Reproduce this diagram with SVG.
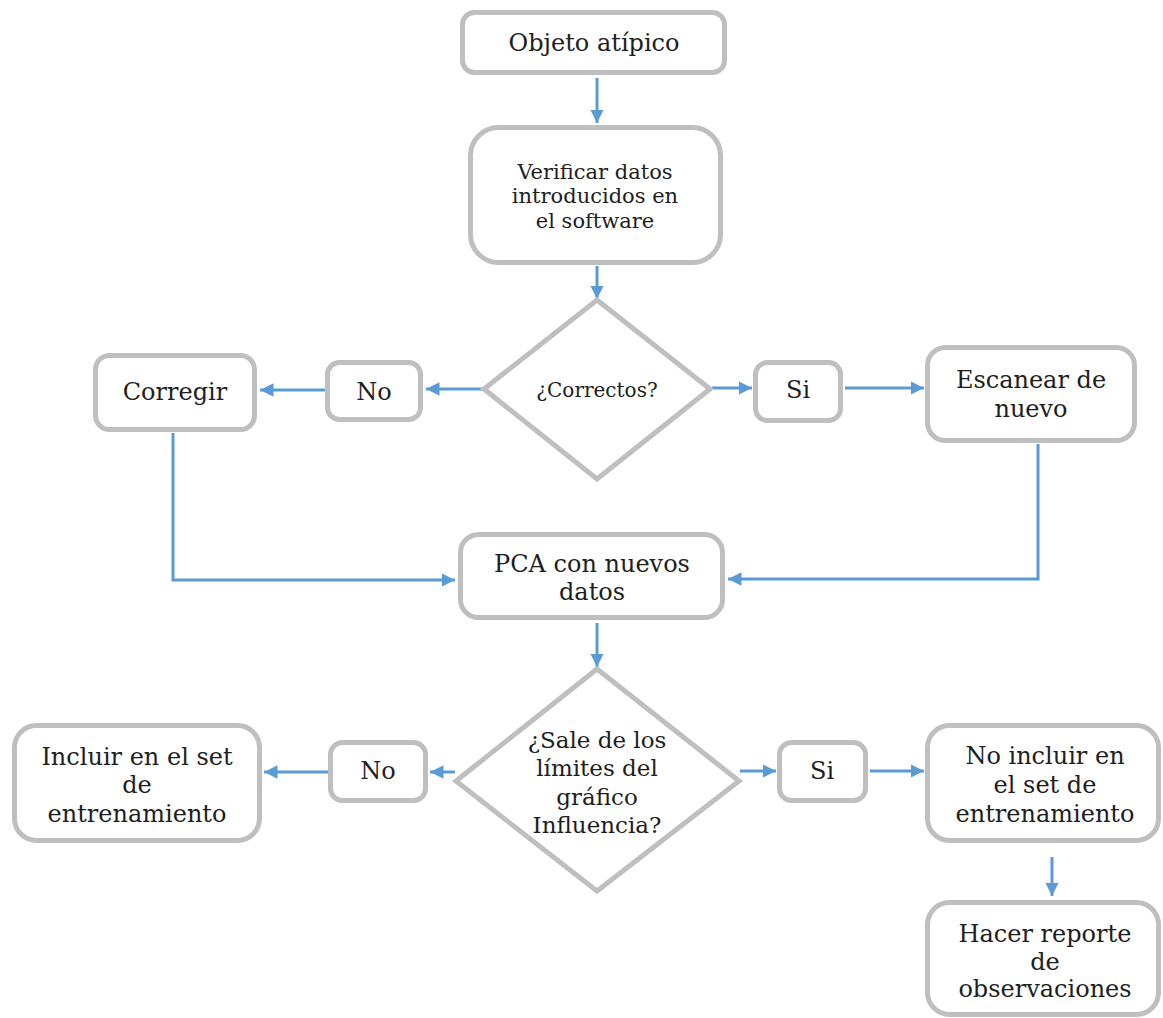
<svg xmlns="http://www.w3.org/2000/svg" width="1163" height="1018" viewBox="0 0 1163 1018">
<style>
.box{fill:#fff;stroke:#bfbfbf;stroke-width:5}
.t{font-family:"DejaVu Serif","Liberation Serif",serif;font-size:24px;fill:#1e1e1e;text-anchor:middle}
.c{fill:none;stroke:#5b9bd5;stroke-width:3;marker-end:url(#ah)}
</style>
<defs>
<marker id="ah" viewBox="0 0 10 10" refX="10" refY="5" markerWidth="4.5" markerHeight="4.5" orient="auto" markerUnits="strokeWidth">
<path d="M0,0 L10,5 L0,10 z" fill="#5b9bd5"/>
</marker>
</defs>
<rect width="1163" height="1018" fill="#fff"/>
<g id="connectors">
<path class="c" d="M597,78 V123"/>
<path class="c" d="M597,266 V299"/>
<path class="c" d="M483,389 H426"/>
<path class="c" d="M325,390 H260"/>
<path class="c" d="M712,388 H752"/>
<path class="c" d="M845,388 H924"/>
<path class="c" d="M1038,444 V579 H728"/>
<path class="c" d="M173,433 V580 H455"/>
<path class="c" d="M597,623 V667"/>
<path class="c" d="M455,772 H430"/>
<path class="c" d="M328,772 H264"/>
<path class="c" d="M740,771 H776"/>
<path class="c" d="M870,771 H924"/>
<path class="c" d="M1052,857 V896"/>
</g>
<g id="n1"><rect class="box" x="462.5" y="12.5" width="262" height="60" rx="12"/><text class="t" x="594" y="51">Objeto atípico</text></g>
<g id="n2"><rect class="box" x="470.5" y="127.5" width="250" height="135" rx="28"/><text class="t" style="font-size:21px" x="595" y="179">Verificar datos</text><text class="t" style="font-size:21px" x="595" y="203">introducidos en</text><text class="t" style="font-size:21px" x="595" y="228">el software</text></g>
<g id="d1"><polygon class="box" points="597,300 710,389 597,479 484,389"/><text class="t" style="font-size:20px" x="597" y="397">¿Correctos?</text></g>
<g id="no1"><rect class="box" x="327.5" y="362.5" width="93" height="57" rx="12"/><text class="t" x="374" y="400">No</text></g>
<g id="corregir"><rect class="box" x="95.5" y="355.5" width="159" height="74" rx="14"/><text class="t" x="175" y="400">Corregir</text></g>
<g id="si1"><rect class="box" x="755.5" y="362.5" width="85" height="58" rx="12"/><text class="t" x="798" y="398">Si</text></g>
<g id="escanear"><rect class="box" x="927.5" y="347.5" width="207" height="93" rx="18"/><text class="t" x="1031" y="388">Escanear de</text><text class="t" x="1031" y="417">nuevo</text></g>
<g id="pca"><rect class="box" x="460.5" y="534.5" width="262" height="83" rx="18"/><text class="t" x="592" y="572">PCA con nuevos</text><text class="t" x="592" y="600">datos</text></g>
<g id="d2"><polygon class="box" points="597,669 739,781 597,891 456,781"/><text class="t" style="font-size:23px" x="597" y="748">¿Sale de los</text><text class="t" style="font-size:23px" x="597" y="776">límites del</text><text class="t" style="font-size:23px" x="597" y="805">gráfico</text><text class="t" style="font-size:23px" x="597" y="833">Influencia?</text></g>
<g id="no2"><rect class="box" x="330.5" y="742.5" width="95" height="58" rx="12"/><text class="t" x="378" y="779">No</text></g>
<g id="incluir"><rect class="box" x="14.5" y="725.5" width="245" height="115" rx="22"/><text class="t" x="137" y="765">Incluir en el set</text><text class="t" x="137" y="793">de</text><text class="t" x="137" y="822">entrenamiento</text></g>
<g id="si2"><rect class="box" x="779.5" y="742.5" width="86" height="58" rx="12"/><text class="t" x="822" y="779">Si</text></g>
<g id="noincluir"><rect class="box" x="927.5" y="725.5" width="231" height="115" rx="22"/><text class="t" x="1045" y="764">No incluir en</text><text class="t" x="1045" y="793">el set de</text><text class="t" x="1045" y="822">entrenamiento</text></g>
<g id="hacer"><rect class="box" x="927.5" y="902.5" width="231" height="112" rx="22"/><text class="t" x="1045" y="942">Hacer reporte</text><text class="t" x="1045" y="970">de</text><text class="t" x="1045" y="997">observaciones</text></g>
</svg>
